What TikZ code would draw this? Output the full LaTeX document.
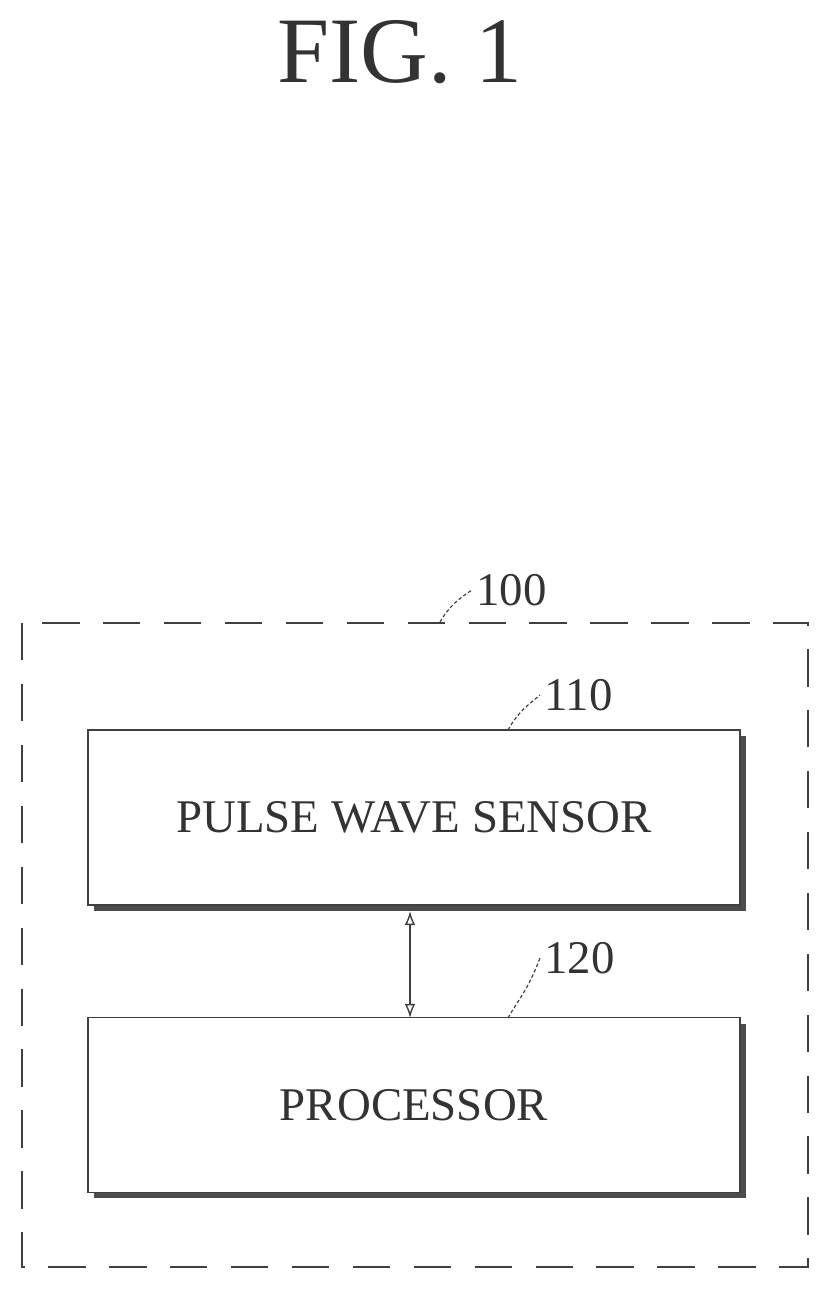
\documentclass[tikz,border=0pt]{standalone}
\usepackage{fontspec}
\usetikzlibrary{arrows.meta}
\setmainfont{Liberation Serif}
\begin{document}
\begin{tikzpicture}[x=0.03cm,y=-0.03cm,
  blk/.style={draw=black!75,line width=1.2pt,fill=white,minimum width=652*0.03cm,minimum height=175*0.03cm,font=\fontsize{40}{44}\selectfont,text=black!80},
  shad/.style={fill=black!70},
  lead/.style={draw=black!75,line width=1pt,dash pattern=on 3pt off 2pt},
  lab/.style={font=\fontsize{40}{44}\selectfont,text=black!80,anchor=west}]
\useasboundingbox (0,0) rectangle (828,1289);
\node[font=\fontsize{80}{88}\selectfont,text=black!80] (title) at (400,52) {FIG. 1};
\draw[black!75,line width=1.5pt,dash pattern=on 32pt off 20pt] (22,623) rectangle (808,1267);
\node[shape=coordinate] (c100) at (440,622) {};
\node[lab] (l100) at (472,590) {100};
\draw[lead] (c100) .. controls (450,605) and (460,598) .. (l100.west);
% shadows
\fill[shad] (94,736) rectangle (746,911);
\fill[shad] (94,1024) rectangle (746,1198);
\node[blk] (s110) at (414,817.5) {PULSE WAVE SENSOR};
\node[blk] (s120) at (414,1105) {PROCESSOR};
\node[lab] (l110) at (540,695) {110};
\node[lab] (l120) at (540,958) {120};
\draw[lead] (508,730) .. controls (518,712) and (528,705) .. (l110.west);
\draw[lead] (508,1018) .. controls (518,1000) and (528,990) .. (l120.west);
\draw[black!75,line width=1.2pt,{Latex[length=12pt,width=9pt,open]}-{Latex[length=12pt,width=9pt,open]}] (410,911) -- (410,1018);
\end{tikzpicture}
\end{document}
